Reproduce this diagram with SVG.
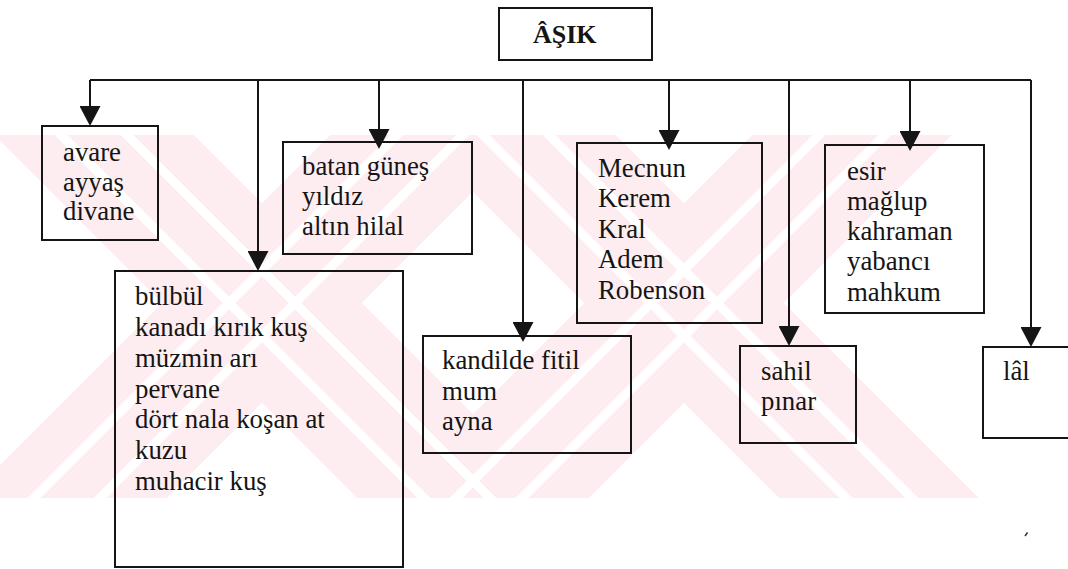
<svg xmlns="http://www.w3.org/2000/svg" width="1068" height="569" viewBox="0 0 1068 569">
<style>
.box{fill:none;stroke:#151515;stroke-width:2}
.conn{fill:none;stroke:#151515;stroke-width:2}
text{font-family:'Liberation Serif','Times New Roman',Times,serif;font-size:26.8px;fill:#151515}
.title{font-weight:bold;font-size:26px}
.wm{stroke:#fdedf0;stroke-width:141;fill:none}
.gap{stroke:#ffffff;stroke-width:9;fill:none}
</style>
<defs>
<clipPath id="band"><rect x="0" y="135" width="1068" height="363"/></clipPath>
<marker id="arr" viewBox="0 -10.5 20 21" refX="15" refY="0" markerWidth="20" markerHeight="21" markerUnits="userSpaceOnUse" orient="auto">
<path d="M0,-10.5 L20,0 L0,10.5 Z" fill="#151515"/>
</marker>
</defs>
<rect x="0" y="0" width="1068" height="569" fill="#ffffff"/>
<g id="watermark" clip-path="url(#band)">
<line class="wm" x1="-138" y1="-97" x2="662" y2="703"/>
<line class="wm" x1="-138" y1="703" x2="662" y2="-97"/>
<line class="wm" x1="284" y1="-97" x2="1084" y2="703"/>
<line class="wm" x1="284" y1="703" x2="1084" y2="-97"/>
<line class="gap" x1="-105" y1="-97" x2="695" y2="703"/>
<line class="gap" x1="-171" y1="-97" x2="629" y2="703"/>
<line class="gap" x1="-105" y1="703" x2="695" y2="-97"/>
<line class="gap" x1="-171" y1="703" x2="629" y2="-97"/>
<line class="gap" x1="317" y1="-97" x2="1117" y2="703"/>
<line class="gap" x1="251" y1="-97" x2="1051" y2="703"/>
<line class="gap" x1="317" y1="703" x2="1117" y2="-97"/>
<line class="gap" x1="251" y1="703" x2="1051" y2="-97"/>
</g>
<g id="connectors">
<path class="conn" d="M90,80 H1031"/>
<path class="conn" d="M90,80 V121" marker-end="url(#arr)"/>
<path class="conn" d="M258,80 V266" marker-end="url(#arr)"/>
<path class="conn" d="M379,80 V144" marker-end="url(#arr)"/>
<path class="conn" d="M523,80 V337" marker-end="url(#arr)"/>
<path class="conn" d="M669,80 V145" marker-end="url(#arr)"/>
<path class="conn" d="M789,80 V341" marker-end="url(#arr)"/>
<path class="conn" d="M910,80 V146" marker-end="url(#arr)"/>
<path class="conn" d="M1031,80 V342" marker-end="url(#arr)"/>
</g>
<g id="node-asik">
<rect class="box" x="499" y="8" width="153" height="52"/>
<text class="title" x="533" y="43">ÂŞIK</text>
</g>
<g id="node-avare">
<rect class="box" x="42" y="126" width="116" height="114"/>
<text x="63" y="161">avare</text>
<text x="63" y="190.5">ayyaş</text>
<text x="63" y="220">divane</text>
</g>
<g id="node-bulbul">
<rect class="box" x="115" y="271" width="288" height="296"/>
<text x="135" y="305">bülbül</text>
<text x="135" y="336">kanadı kırık kuş</text>
<text x="135" y="366.5">müzmin arı</text>
<text x="135" y="397.5">pervane</text>
<text x="135" y="428">dört nala koşan at</text>
<text x="135" y="459">kuzu</text>
<text x="135" y="490">muhacir kuş</text>
</g>
<g id="node-batan">
<rect class="box" x="283" y="142" width="189" height="112"/>
<text x="302" y="175">batan güneş</text>
<text x="302" y="205">yıldız</text>
<text x="302" y="235">altın hilal</text>
</g>
<g id="node-kandilde">
<rect class="box" x="423" y="336" width="208" height="117"/>
<text x="442" y="369">kandilde fitil</text>
<text x="442" y="399.5">mum</text>
<text x="442" y="430">ayna</text>
</g>
<g id="node-mecnun">
<rect class="box" x="577" y="143" width="185" height="180"/>
<text x="598" y="176.5">Mecnun</text>
<text x="598" y="207">Kerem</text>
<text x="598" y="237.5">Kral</text>
<text x="598" y="268">Adem</text>
<text x="598" y="298.5">Robenson</text>
</g>
<g id="node-sahil">
<rect class="box" x="740" y="346" width="116" height="97"/>
<text x="761" y="380">sahil</text>
<text x="761" y="410">pınar</text>
</g>
<g id="node-esir">
<rect class="box" x="825" y="145" width="159" height="168"/>
<text x="847" y="180">esir</text>
<text x="847" y="210">mağlup</text>
<text x="847" y="240">kahraman</text>
<text x="847" y="270">yabancı</text>
<text x="847" y="300.5">mahkum</text>
</g>
<g id="node-lal">
<rect class="box" x="983" y="347" width="100" height="91"/>
<text x="1003" y="380">lâl</text>
</g>
<path d="M1025,536 L1027.5,532.5" stroke="#333" stroke-width="1.5" fill="none"/>
</svg>
